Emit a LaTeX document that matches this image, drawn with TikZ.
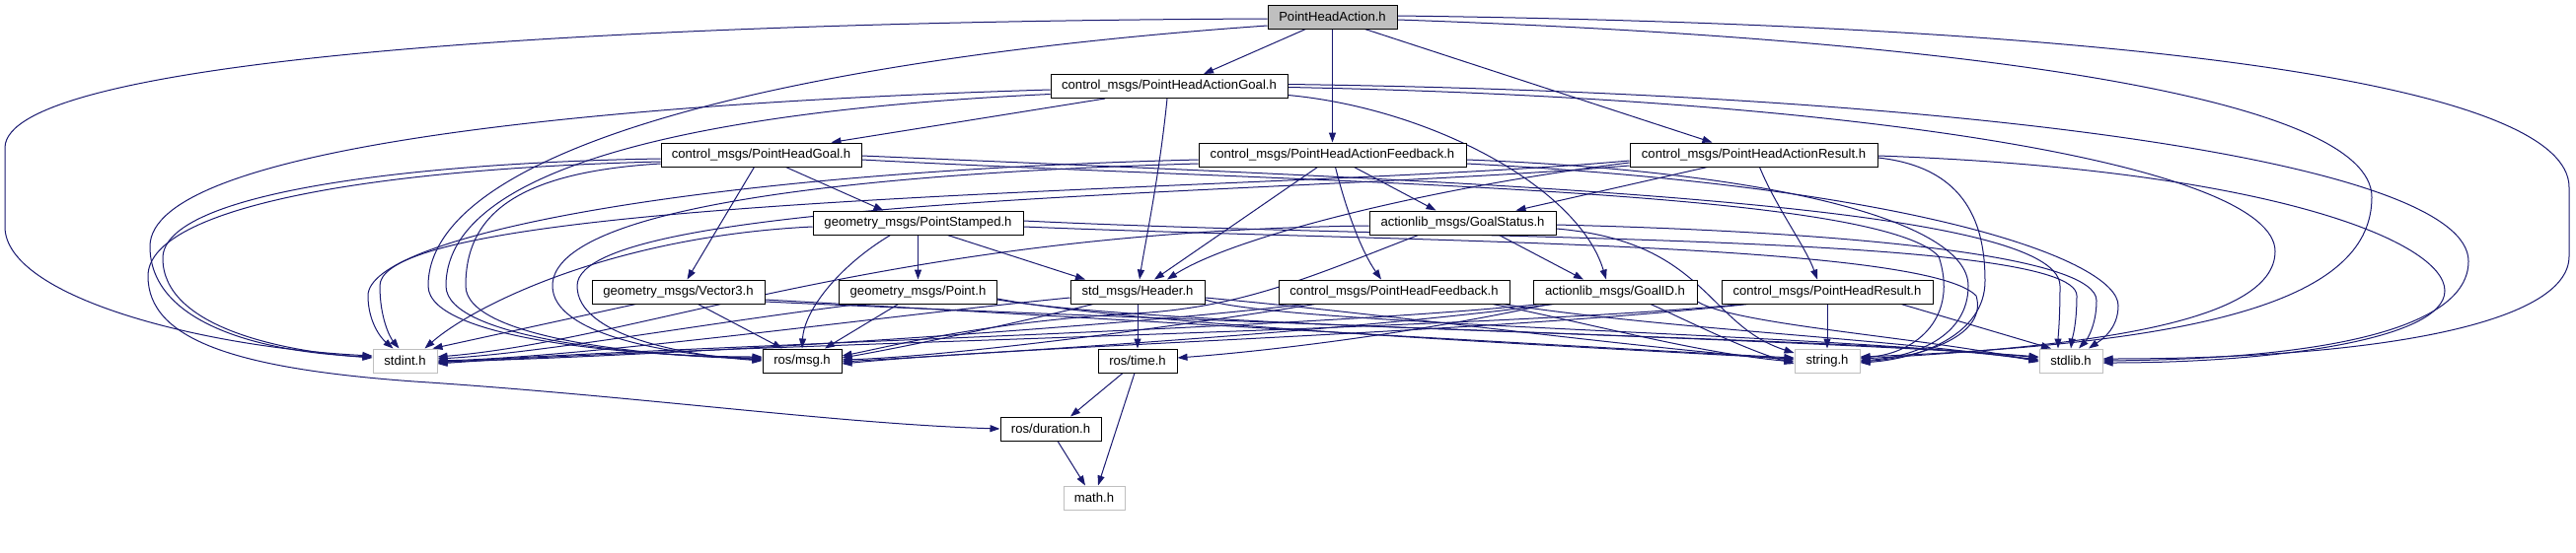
\documentclass[tikz,border=0pt]{standalone}
\usepackage{fontspec}
\setmainfont{Liberation Sans}
\usetikzlibrary{arrows.meta}
\definecolor{edgecol}{HTML}{191970}
\definecolor{grayb}{HTML}{BFBFBF}
\pgfdeclarelayer{bgl}
\pgfdeclarelayer{edges}
\pgfsetlayers{bgl,edges,main}
\begin{document}
\begin{tikzpicture}[x=1pt,y=-1pt,
  box/.style={draw=black, line width=1pt, fill=white, minimum height=24pt, inner sep=0pt, font=\fontsize{13.1}{15}\selectfont, text=black},
  sysbox/.style={box, draw=grayb},
  e/.style={draw=edgecol, line width=1pt, -{Triangle[length=10pt,width=7pt]}}]
\useasboundingbox (0,0) rectangle (2611,560);
\begin{pgfonlayer}{bgl}
\fill[white] (0,0) rectangle (2611,560);
\end{pgfonlayer}
% nodes
\node[box, fill=grayb, minimum width=131pt] (pha) at (1350.5,17) {PointHeadAction.h};
\node[box, minimum width=240pt] (goalA) at (1185,87.5) {control\_msgs/PointHeadActionGoal.h};
\node[box, minimum width=203pt] (phg) at (771.5,157) {control\_msgs/PointHeadGoal.h};
\node[box, minimum width=271pt] (fbA) at (1350.5,157) {control\_msgs/PointHeadActionFeedback.h};
\node[box, minimum width=251pt] (resA) at (1777.5,157) {control\_msgs/PointHeadActionResult.h};
\node[box, minimum width=213pt] (ps) at (930.5,226) {geometry\_msgs/PointStamped.h};
\node[box, minimum width=189pt] (gs) at (1482.5,226) {actionlib\_msgs/GoalStatus.h};
\node[box, minimum width=175pt] (v3) at (687.5,296) {geometry\_msgs/Vector3.h};
\node[box, minimum width=160pt] (pt) at (930.5,296) {geometry\_msgs/Point.h};
\node[box, minimum width=136pt] (hdr) at (1153,296) {std\_msgs/Header.h};
\node[box, minimum width=234pt] (phf) at (1413,296) {control\_msgs/PointHeadFeedback.h};
\node[box, minimum width=166pt] (gid) at (1637,296) {actionlib\_msgs/GoalID.h};
\node[box, minimum width=214pt] (phr) at (1852,296) {control\_msgs/PointHeadResult.h};
\node[sysbox, minimum width=65pt] (stdint) at (410.5,366) {stdint.h};
\node[box, minimum width=80pt] (msg) at (813,366) {ros/msg.h};
\node[box, minimum width=80pt] (time) at (1153,366) {ros/time.h};
\node[sysbox, minimum width=66pt] (str) at (1852,366) {string.h};
\node[sysbox, minimum width=64pt] (stdlib) at (2099,366) {stdlib.h};
\node[box, minimum width=102pt] (dur) at (1065,435) {ros/duration.h};
\node[sysbox, minimum width=62pt] (math) at (1109,505) {math.h};

\begin{pgfonlayer}{edges}
% direct edges
\draw[e] ([xshift=-27pt]pha.south) -- ([xshift=35pt]goalA.north);
\draw[e] (pha.south) -- (fbA.north);
\draw[e] ([xshift=33pt]pha.south) -- ([xshift=-42pt]resA.north);
\draw[e] ([xshift=-65pt]goalA.south) -- ([xshift=71pt]phg.north);
\draw[e] ([xshift=-2pt]goalA.south) .. controls (1175,180) and (1160,250) .. ([xshift=2pt]hdr.north);
\draw[e] ([yshift=-9pt]goalA.east) .. controls (1450,110) and (1600,190) .. ([xshift=-9pt]gid.north);
\draw[e] ([xshift=-15pt]fbA.south) -- ([xshift=17pt]hdr.north);
\draw[e] ([xshift=3pt]fbA.south) .. controls (1365,215) and (1380,255) .. ([xshift=-13pt]phf.north);
\draw[e] ([xshift=22pt]fbA.south) -- ([xshift=-27pt]gs.north);
\draw[e] ([xshift=-47pt]resA.south) -- ([xshift=54pt]gs.north);
\draw[e] ([xshift=6pt]resA.south) .. controls (1800,210) and (1830,250) .. ([xshift=-10pt]phr.north);
\draw[e] ([yshift=-8pt]resA.west) .. controls (1450,190) and (1250,240) .. ([xshift=30pt]hdr.north);
\draw[e] ([xshift=-7pt]phg.south) -- ([xshift=9pt]v3.north);
\draw[e] ([xshift=25pt]phg.south) -- ([xshift=-35pt]ps.north);
\draw[e] ([yshift=-7pt]phg.west) .. controls (350,172) and (150,215) .. (150,280) .. controls (150,345) and (240,374) .. (420,387) .. controls (650,402) and (850,430) .. (dur.west);
\draw[e] ([xshift=30pt]ps.south) -- ([xshift=-53pt]hdr.north);
\draw[e] (ps.south) -- (pt.north);
\draw[e] ([xshift=37pt]gs.south) -- ([xshift=-32pt]gid.north);
\draw[e] (hdr.south) -- (time.north);
\draw[e] ([xshift=-67pt]gid.south) .. controls (1450,335) and (1300,355) .. ([yshift=3pt]time.east);
\draw[e] ([xshift=-15pt]time.south) -- ([xshift=20pt]dur.north);
\draw[e] ([xshift=-3pt]time.south) -- ([xshift=4pt]math.north);
\draw[e] ([xshift=7pt]dur.south) -- ([xshift=-9pt]math.north);
\draw[e] (phr.south) -- (str.north);
% to stdint.h
\draw[e] ([yshift=-2pt]pha.west) .. controls (600,22) and (5,60) .. (5,150) -- (5,230) .. controls (5,300) and (200,352) .. ([yshift=5pt]stdint.west);
\draw[e] ([yshift=-3.5pt]goalA.west) .. controls (600,105) and (152,150) .. (152,250) .. controls (152,330) and (270,358) .. ([yshift=4pt]stdint.west);
\draw[e] ([yshift=-4pt]phg.west) .. controls (420,165) and (165,195) .. (165,262) .. controls (165,330) and (280,356) .. ([yshift=3pt]stdint.west);
\draw[e] ([yshift=-5pt]fbA.west) .. controls (700,175) and (373,240) .. (373,300) .. controls (373,325) and (385,342) .. ([xshift=-12pt]stdint.north);
\draw[e] ([yshift=-6pt]resA.west) .. controls (1300,195) and (385,195) .. (385,290) .. controls (385,322) and (395,342) .. ([xshift=-6pt]stdint.north);
\draw[e] ([yshift=-4pt]ps.west) .. controls (620,240) and (480,310) .. ([xshift=20pt]stdint.north);
\draw[e] ([xshift=-43pt]v3.south) -- ([xshift=28pt]stdint.north);
\draw[e] ([yshift=-3pt]gs.west) .. controls (900,235) and (650,345) .. ([yshift=4pt]stdint.east);
\draw[e] ([xshift=-60pt]pt.south) .. controls (700,330) and (550,358) .. ([yshift=2pt]stdint.east);
\draw[e] ([yshift=-6pt]hdr.west) .. controls (900,320) and (600,362) .. (stdint.east);
\draw[e] ([xshift=-90pt]phf.south) .. controls (1100,335) and (650,362) .. ([yshift=-1pt]stdint.east);
\draw[e] ([xshift=-75pt]gid.south) .. controls (1300,335) and (700,350) .. ([yshift=-2pt]stdint.east);
\draw[e] ([xshift=-85pt]phr.south) .. controls (1500,335) and (700,350) .. ([yshift=-3pt]stdint.east);
% to ros/msg.h
\draw[e] ([yshift=-9pt]pha.west) .. controls (800,60) and (434,150) .. (434,290) .. controls (434,345) and (650,362) .. ([yshift=4pt]msg.west);
\draw[e] ([yshift=-8pt]goalA.west) .. controls (750,110) and (452,160) .. (452,290) .. controls (452,345) and (660,362) .. ([yshift=3pt]msg.west);
\draw[e] ([yshift=-9pt]phg.west) .. controls (520,175) and (472,220) .. (472,290) .. controls (472,345) and (670,362) .. ([yshift=2pt]msg.west);
\draw[e] ([yshift=-9pt]fbA.west) .. controls (800,178) and (560,220) .. (560,290) .. controls (560,340) and (680,360) .. ([yshift=1pt]msg.west);
\draw[e] ([yshift=-11pt]resA.west) .. controls (1300,198) and (585,198) .. (585,290) .. controls (585,340) and (690,360) .. (msg.west);
\draw[e] ([xshift=20pt]v3.south) -- ([xshift=-20pt]msg.north);
\draw[e] ([xshift=-28pt]ps.south) .. controls (850,270) and (815,315) .. (msg.north);
\draw[e] ([xshift=-20pt]pt.south) -- ([xshift=23pt]msg.north);
\draw[e] ([xshift=-45pt]gs.south) .. controls (1330,280) and (1260,312) .. (1150,318) .. controls (1000,326) and (900,352) .. ([yshift=5pt]msg.east);
\draw[e] ([xshift=-45pt]hdr.south) .. controls (1000,335) and (900,355) .. ([yshift=3pt]msg.east);
\draw[e] ([xshift=-80pt]phf.south) .. controls (1150,338) and (950,362) .. ([yshift=1pt]msg.east);
\draw[e] ([xshift=-62pt]gid.south) .. controls (1350,338) and (1000,358) .. ([yshift=-1pt]msg.east);
\draw[e] ([xshift=-80pt]phr.south) .. controls (1500,338) and (1050,350) .. ([yshift=-3pt]msg.east);
% to string.h
\draw[e] ([yshift=-3pt]pha.east) .. controls (2000,40) and (2404,100) .. (2404,200) .. controls (2404,300) and (2250,348) .. ([yshift=4pt]str.east);
\draw[e] ([yshift=-1pt]goalA.east) .. controls (1900,100) and (2306,170) .. (2306,255) .. controls (2306,330) and (2100,352) .. ([yshift=2pt]str.east);
\draw[e] ([yshift=-5pt]fbA.east) .. controls (1800,174) and (1995,225) .. (1995,290) .. controls (1995,342) and (1940,362) .. (str.east);
\draw[e] ([yshift=-3pt]resA.east) .. controls (1995,170) and (2012,230) .. (2012,285) .. controls (2012,340) and (1945,364) .. ([yshift=-2pt]str.east);
\draw[e] ([yshift=-5pt]phg.east) .. controls (1300,185) and (1900,190) .. (1965,260) .. controls (1985,320) and (1945,358) .. ([yshift=3pt]str.east);
\draw[e] ([yshift=-4pt]ps.east) .. controls (1400,245) and (1950,245) .. (2003,300) .. controls (2015,340) and (1950,362) .. ([yshift=-1pt]str.east);
\draw[e] ([yshift=-6pt]gs.east) .. controls (1730,245) and (1730,330) .. ([yshift=8pt]str.west);
\draw[e] ([yshift=-8pt]v3.east) .. controls (1100,322) and (1600,352) .. ([yshift=3pt]str.west);
\draw[e] ([yshift=-7pt]pt.east) .. controls (1150,330) and (1600,352) .. ([yshift=2pt]str.west);
\draw[e] ([yshift=-6pt]hdr.east) .. controls (1400,318) and (1650,352) .. ([yshift=1pt]str.west);
\draw[e] ([xshift=100pt]phf.south) .. controls (1620,330) and (1720,358) .. ([yshift=-1pt]str.west);
\draw[e] ([xshift=36pt]gid.south) .. controls (1720,330) and (1770,355) .. ([yshift=-3pt]str.west);
% to stdlib.h
\draw[e] ([yshift=1pt]pha.east) .. controls (2200,26) and (2604,90) .. (2604,190) -- (2604,260) .. controls (2604,330) and (2400,364) .. ([yshift=2pt]stdlib.east);
\draw[e] ([yshift=2pt]goalA.east) .. controls (2000,95) and (2502,165) .. (2502,265) .. controls (2502,335) and (2350,364) .. (stdlib.east);
\draw[e] ([yshift=-1pt]resA.east) .. controls (2300,172) and (2478,245) .. (2478,295) .. controls (2478,345) and (2300,368) .. ([yshift=-2pt]stdlib.east);
\draw[e] ([yshift=-9pt]fbA.east) .. controls (1950,190) and (2147,265) .. (2147,310) .. controls (2147,335) and (2128,346) .. ([xshift=18pt]stdlib.north);
\draw[e] ([yshift=-1pt]phg.east) .. controls (1500,185) and (2088,205) .. (2088,290) .. controls (2088,325) and (2086,342) .. ([xshift=-13pt]stdlib.north);
\draw[e] ([yshift=2pt]ps.east) .. controls (1450,244) and (2105,236) .. (2105,300) .. controls (2105,330) and (2100,345) .. (stdlib.north);
\draw[e] ([yshift=-2pt]gs.east) .. controls (1900,236) and (2125,262) .. (2125,305) .. controls (2125,330) and (2115,345) .. ([xshift=8pt]stdlib.north);
\draw[e] ([yshift=-10pt]v3.east) .. controls (1200,326) and (1850,345) .. ([yshift=4pt]stdlib.west);
\draw[e] ([yshift=-8pt]pt.east) .. controls (1200,335) and (1850,340) .. ([yshift=3pt]stdlib.west);
\draw[e] ([yshift=-8pt]hdr.east) .. controls (1300,330) and (1850,338) .. ([yshift=1pt]stdlib.west);
\draw[e] ([xshift=110pt]phf.south) .. controls (1700,335) and (1900,342) .. (stdlib.west);
\draw[e] ([yshift=-10pt]gid.east) .. controls (1760,330) and (1950,342) .. ([yshift=-1pt]stdlib.west);
\draw[e] ([xshift=75pt]phr.south) -- ([xshift=-20pt]stdlib.north);
\end{pgfonlayer}
\end{tikzpicture}
\end{document}
